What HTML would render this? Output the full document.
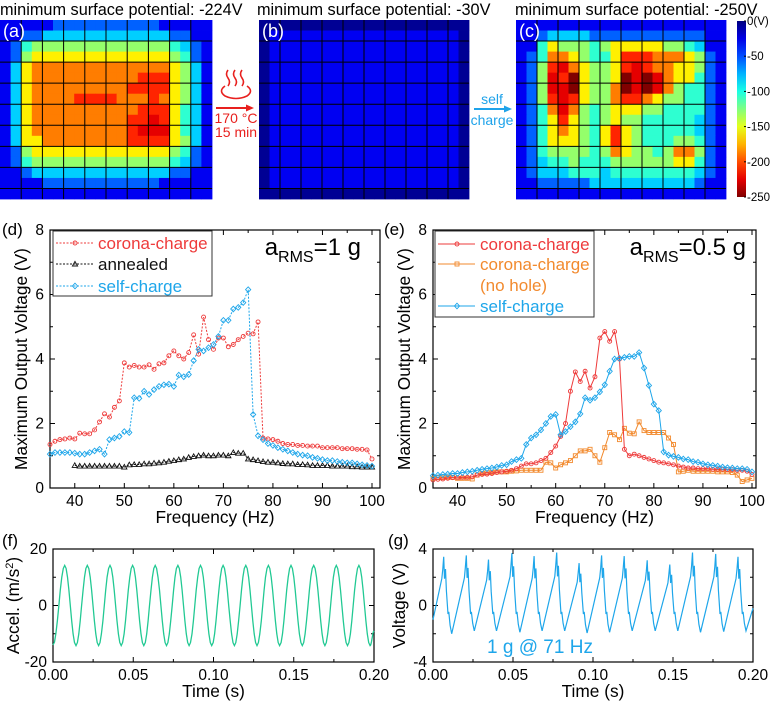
<!DOCTYPE html>
<html><head><meta charset="utf-8"><style>
html,body{margin:0;padding:0;background:#fff;}
svg{display:block;font-family:"Liberation Sans",Arial,sans-serif;}
</style></head><body>
<svg id="fig" width="770" height="708" viewBox="0 0 770 708" xmlns="http://www.w3.org/2000/svg">
<g id="maps"></g>
<g id="annot">
 <text x="0" y="15" font-size="16.3">minimum surface potential: -224V</text>
 <text x="257" y="15" font-size="16.3">minimum surface potential: -30V</text>
 <text x="515" y="15" font-size="16.3">minimum surface potential: -250V</text>
 <g fill="none" stroke="#e8201e" stroke-width="1.6">
  <path d="M228,70 q-3,4 0,8 q3,4 0,8 M235,70 q-3,4 0,8 q3,4 0,8 M242,70 q-3,4 0,8 q3,4 0,8"/>
  <path d="M225,86 q-7,5 0,10 q11,5 22,0 q7,-5 0,-10"/>
 </g>
 <g><line x1="216" y1="108" x2="248" y2="108" stroke="#e8201e" stroke-width="2"/><polygon points="254,108 246,104.5 246,111.5" fill="#e8201e"/></g>
 <text x="236" y="123" font-size="14" fill="#e8201e" text-anchor="middle">170 °C</text>
 <text x="236" y="137" font-size="14" fill="#e8201e" text-anchor="middle">15 min</text>
 <text x="492" y="104" font-size="14" fill="#1fa3ea" text-anchor="middle">self</text>
 <g><line x1="474" y1="109" x2="506" y2="109" stroke="#1fa3ea" stroke-width="2"/><polygon points="512,109 504,105.5 504,112.5" fill="#1fa3ea"/></g>
 <text x="492" y="125" font-size="14" fill="#1fa3ea" text-anchor="middle">charge</text>
</g>
<g id="charts"></g>
</svg>
<script>
// ---------- heatmap data (digit = potential level index into levelV)
const levelV=[-5,-28,-55,-82,-105,-130,-160,-188,-210,-225,-250];
const mapA=["11111222222222211111","11223333333333332211","12455555555555554321","12566666666666665421","13677777777777776531","13677777777778886531","13677777777788886531","13677778888777876531","13677777777778886431","13677777777788986431","13677777777789996431","13667777777788886531","12566666666666665421","12455555555555554321","11233333333333332211","11112222222222211111","11111111111111111111"];
const mapB=["00000000000000000000","01111111111111111110","01111111111111111110","01111111111111111110","01111111111111111110","01111111111111111110","01111111111111111110","01111111111111111110","01111111111111111110","01111111111111111110","01111111111111111110","01111111111111111110","01111111111111111110","01111111111111111110","01111111111111111110","01111111111111111110","00000000000000000000"];
const mapC=["11111111111111111111","11233332222222222211","11465554566666554311","12477654468887776521","12589765568987766521","12598a6556a9a9766421","12599a6557a9a9754421","12589865578876554421","12479754566655444421","12468654565544444321","12467654686544444321","12466654686544455421","12455554576554577521","12344544455555566421","12333444344444444321","11222223333333333211","11111111111111111111"];
const cbarLabels=["0(V)","-50","-100","-150","-200","-250"];

// ---------- (d) data, 1 g
const fD=[];for(let f=35;f<=100;f++)fD.push(f);
const fAnn=[];for(let f=40;f<=100;f++)fAnn.push(f);
const dCorona=[1.35,1.45,1.5,1.52,1.55,1.52,1.7,1.68,1.68,1.8,2.05,2.3,2.2,2.5,2.7,3.88,3.75,3.8,3.75,3.75,3.82,3.68,3.85,3.88,4.1,4.25,4.1,4.0,4.2,4.75,4.15,5.3,4.6,4.3,4.65,4.65,4.38,4.45,4.6,4.7,4.8,4.78,5.15,1.55,1.52,1.5,1.45,1.38,1.35,1.35,1.32,1.32,1.3,1.3,1.3,1.25,1.25,1.25,1.25,1.22,1.22,1.22,1.2,1.2,1.18,0.9];
const dSelf=[1.05,1.1,1.1,1.1,1.1,1.08,1.05,1.05,1.1,1.15,1.2,1.05,1.5,1.55,1.6,1.75,1.72,2.8,2.78,3.0,2.9,3.05,3.15,3.2,3.22,3.15,3.5,3.45,3.52,3.95,4.3,4.25,4.35,4.45,4.7,5.2,5.2,5.55,5.6,5.75,6.15,2.28,1.62,1.5,1.38,1.32,1.25,1.2,1.15,1.1,1.05,1.02,1.0,0.95,0.92,0.88,0.85,0.85,0.82,0.8,0.78,0.78,0.75,0.72,0.7,0.68];
const dAnnealed=[0.70,0.68,0.68,0.68,0.68,0.68,0.68,0.68,0.68,0.68,0.65,0.72,0.73,0.73,0.75,0.75,0.77,0.78,0.80,0.83,0.85,0.88,0.90,0.95,0.98,1.00,1.02,1.00,1.00,1.02,1.02,1.00,1.10,1.08,1.08,0.90,0.88,0.85,0.82,0.80,0.80,0.78,0.76,0.75,0.75,0.73,0.73,0.72,0.70,0.70,0.70,0.70,0.68,0.68,0.68,0.68,0.66,0.66,0.65,0.65,0.65];
// ---------- (e) data, 0.5 g
const eCorona=[0.25,0.27,0.28,0.3,0.32,0.32,0.33,0.33,0.35,0.4,0.42,0.43,0.45,0.48,0.5,0.52,0.55,0.6,0.68,0.75,0.75,0.78,0.85,0.92,1.1,1.3,1.6,2.0,3.0,3.6,3.3,3.62,3.1,3.45,4.65,4.85,4.55,4.85,4.0,1.2,1.0,1.05,1.0,0.95,0.9,0.85,0.8,0.78,0.75,0.72,0.68,0.65,0.62,0.62,0.6,0.6,0.6,0.58,0.58,0.58,0.57,0.57,0.55,0.55,0.52,0.42];
const eNoHole=[0.3,0.32,0.32,0.33,0.33,0.3,0.3,0.3,0.28,0.4,0.45,0.47,0.48,0.5,0.5,0.5,0.52,0.53,0.55,0.55,0.55,0.55,0.55,0.8,0.78,0.62,0.72,0.78,0.85,1.0,1.15,1.15,1.2,1.0,0.8,1.25,1.72,1.65,1.5,1.85,1.7,1.68,2.05,1.78,1.72,1.72,1.72,1.72,1.55,1.35,0.5,0.52,0.55,0.52,0.52,0.52,0.52,0.52,0.5,0.5,0.5,0.48,0.4,0.2,0.25,0.3];
const eSelf=[0.38,0.4,0.42,0.43,0.45,0.45,0.48,0.5,0.52,0.55,0.58,0.6,0.62,0.65,0.7,0.72,0.82,0.88,0.92,1.35,1.55,1.65,1.8,2.0,2.22,2.28,1.65,1.75,1.9,2.05,2.3,2.8,2.72,2.8,2.98,3.2,3.62,4.0,4.02,4.05,4.08,4.08,4.2,3.72,3.18,2.6,2.4,1.12,1.02,0.98,0.95,0.9,0.88,0.82,0.8,0.75,0.72,0.7,0.68,0.65,0.63,0.62,0.6,0.6,0.58,0.5];
const freqTicks=[40,50,60,70,80,90,100];
const voltTicks=[0,2,4,6,8];
// ---------- (f) acceleration extrema
const accT=[0,0.0073,0.0143,0.0214,0.0284,0.0355,0.0425,0.0496,0.0566,0.0637,0.0707,0.0778,0.0848,0.0919,0.0989,0.1060,0.1130,0.1201,0.1271,0.1342,0.1412,0.1483,0.1553,0.1624,0.1694,0.1765,0.1835,0.1906,0.1976,0.2];
const accV=[-14,14.2,-14.2,14.2,-14.2,14.2,-14.2,14.2,-14.2,14.2,-14.2,14.2,-14.2,14.2,-14.2,14.2,-14.2,14.2,-14.2,14.2,-14.2,14.2,-14.2,14.2,-14.2,14.2,-14.2,14.2,-14.2,-9];
const accTicks=[-20,0,20];
// ---------- (g) voltage peaks
const vPeakT=[0.0067,0.0208,0.0347,0.0493,0.0632,0.0773,0.0913,0.1054,0.1195,0.1339,0.1480,0.1622,0.1767,0.1906];
const vPeakV=[3.45,3.55,3.25,3.7,3.5,3.75,3.0,3.55,3.5,3.2,2.9,3.75,3.65,3.45];
const vTroughV=[-2.0,-1.8,-1.8,-1.9,-1.8,-1.8,-1.95,-1.9,-1.8,-1.8,-1.8,-1.9,-1.85,-1.8];
const vStart=-1.0, vEnd=-0.2;
const voltGTicks=[-4,0,4];
const timeTicks=["0.00","0.05","0.10","0.15","0.20"];

const NS="http://www.w3.org/2000/svg";
function mk(tag,attrs,parent){const e=document.createElementNS(NS,tag);for(const k in attrs)e.setAttribute(k,attrs[k]);parent.appendChild(e);return e;}
function jet(t){const c=v=>Math.round(255*Math.max(0,Math.min(1,v)));return `rgb(${c(1.5-Math.abs(4*t-3))},${c(1.5-Math.abs(4*t-2))},${c(1.5-Math.abs(4*t-1))})`;}
const maps=document.getElementById('maps');
function drawMap(rows,x0,x1,y0,y1,name,label){
  const g=mk('g',{},maps);
  
  
  const nr=rows.length,nc=rows[0].length,cw=(x1-x0)/nc,ch=(y1-y0)/nr;
  rows.forEach((r,i)=>{for(let j=0;j<nc;j++){const v=levelV[parseInt(r[j],16)];
    const rc=mk('rect',{x:(x0+j*cw).toFixed(2),y:(y0+i*ch).toFixed(2),width:(cw+0.4).toFixed(2),height:(ch+0.4).toFixed(2),fill:jet(-v/250)},g);
    
    }});
  for(let j=2;j<nc;j+=2)mk('line',{x1:x0+j*cw,x2:x0+j*cw,y1:y0,y2:y1,stroke:'#000','stroke-width':1},g);
  for(let i=2;i<nr;i+=2)mk('line',{x1:x0,x2:x1,y1:y0+i*ch,y2:y0+i*ch,stroke:'#000','stroke-width':1},g);
  const t=mk('text',{x:x0+3,y:y0+17,'font-size':18,fill:'#fff'},g);t.textContent=label;
  
  
}
drawMap(mapA,0,212,20,199,'map-a','(a)');
drawMap(mapB,259,469,20,199,'map-b','(b)');
drawMap(mapC,516,726,20,199,'map-c','(c)');
// colorbar
(function(){const g=mk('g',{},maps);
 
 
 const defs=mk('defs',{},g);const lg=mk('linearGradient',{id:'jetg',x1:0,y1:0,x2:0,y2:1},defs);
 for(let i=0;i<=10;i++)mk('stop',{offset:i/10,'stop-color':jet(i/10)},lg);
 mk('rect',{x:737,y:21,width:9,height:176,fill:'url(#jetg)'},g);
 cbarLabels.forEach((l,i)=>{const y=21+i*176/5;mk('line',{x1:744,x2:746,y1:y,y2:y,stroke:'#000'},g);
  const t=mk('text',{x:747,y:y+4,'font-size':11.5},g);t.textContent=l;
  
  });
})();

const charts=document.getElementById('charts');
function axes(o){
  const g=mk('g',{},charts);
  
  
  const sx=v=>o.x0+(v-o.xa)/(o.xb-o.xa)*(o.x1-o.x0);
  const sy=v=>o.y1-(v-o.ya)/(o.yb-o.ya)*(o.y1-o.y0);
  o.xmaj.forEach((v,i)=>{const x=sx(+v);
    [[o.y1,-5],[o.py0,5]].forEach(([y,d])=>mk('line',{x1:x,x2:x,y1:y,y2:y+d,stroke:'#000'},g));
    const t=mk('text',{x:x,y:o.y1+18,'font-size':15.5,'text-anchor':'middle'},g);t.textContent=o.xlab?o.xlab[i]:v;
    
    });
  o.xmin.forEach(v=>{const x=sx(v);mk('line',{x1:x,x2:x,y1:o.y1,y2:o.y1-3,stroke:'#000'},g);mk('line',{x1:x,x2:x,y1:o.py0,y2:o.py0+3,stroke:'#000'},g);});
  o.ymaj.forEach(v=>{const y=sy(v);mk('line',{x1:o.x0,x2:o.x0+5,y1:y,y2:y,stroke:'#000'},g);mk('line',{x1:o.px1,x2:o.px1-5,y1:y,y2:y,stroke:'#000'},g);
    const t=mk('text',{x:o.x0-6,y:y+5,'font-size':15.5,'text-anchor':'end'},g);t.textContent=v;
    
    });
  o.ymin.forEach(v=>{const y=sy(v);mk('line',{x1:o.x0,x2:o.x0+3,y1:y,y2:y,stroke:'#000'},g);mk('line',{x1:o.px1,x2:o.px1-3,y1:y,y2:y,stroke:'#000'},g);});
  mk('rect',{x:o.x0,y:o.py0,width:o.px1-o.x0,height:o.y1-o.py0,fill:'none',stroke:'#000','stroke-width':1.2},g);
  const xt=mk('text',{x:(o.x0+o.px1)/2,y:o.y1+35,'font-size':17.3,'text-anchor':'middle'},g);xt.textContent=o.xtitle;
  
  
  const cy=(o.py0+o.y1)/2;
  const yt=mk('text',{x:o.ytx,y:cy,'font-size':17.3,'text-anchor':'middle',transform:`rotate(-90 ${o.ytx} ${cy})`},g);yt.innerHTML=o.ytitle;
  
  
  const pl=mk('text',{x:o.plx,y:o.ply,'font-size':17},g);pl.textContent=o.panel;
  
  
  return {g,sx,sy};
}
function marker(g,type,x,y,col){
  let m;
  if(type==='c')m=mk('circle',{cx:x,cy:y,r:2,fill:'none',stroke:col,'stroke-width':0.9},g);
  else if(type==='t')m=mk('polygon',{points:`${x},${y-2.6} ${x-2.6},${y+2} ${x+2.6},${y+2}`,fill:'none',stroke:col,'stroke-width':0.9},g);
  else if(type==='d')m=mk('polygon',{points:`${x},${y-2.8} ${x+2.6},${y} ${x},${y+2.8} ${x-2.6},${y}`,fill:'none',stroke:col,'stroke-width':0.9},g);
  else m=mk('rect',{x:x-2,y:y-2,width:4,height:4,fill:'none',stroke:col,'stroke-width':0.9},g);
  
  
}
function series(ax,xs,ys,col,type,dash,name){
  const g=mk('g',{},ax.g);
  
  
  const pts=xs.map((x,i)=>`${ax.sx(x).toFixed(1)},${ax.sy(ys[i]).toFixed(1)}`).join(' ');
  const a={points:pts,fill:'none',stroke:col,'stroke-width':1};if(dash)a['stroke-dasharray']=dash;
  mk('polyline',a,g);
  xs.forEach((x,i)=>marker(g,type,ax.sx(x),ax.sy(ys[i]),col));
}
function legend(g,x,y,w,h,items,title,tx,ty){
  const lg=mk('g',{},g);
  
  
  mk('rect',{x,y,width:w,height:h,fill:'#fff',stroke:'#333','stroke-width':1},lg);
  items.forEach(it=>{
    const e=mk('g',{},lg);
    
    
    if(it.type){const a={x1:x+3,x2:x+40,y1:it.y,y2:it.y,stroke:it.col,'stroke-width':1};if(it.dash)a['stroke-dasharray']=it.dash;mk('line',a,e);marker(e,it.type,x+22,it.y,it.col);}
    const t=mk('text',{x:x+45,y:it.y+6,'font-size':17,fill:it.col},e);t.textContent=it.label;});
  const at=mk('text',{x:tx,y:ty,'font-size':24,'text-anchor':'end'},g);
  at.innerHTML='a<tspan font-size="16" dy="7">RMS</tspan><tspan dy="-7">'+title+'</tspan>';
  
  
}
const RED='#ee3b3b',BLUE='#1ea6ea',ORANGE='#f28a2e';
// (d)
const axD=axes({name:'chart-d',x0:50,x1:372,px1:380,xa:35,xb:100,y0:230,py0:230,y1:488,ya:0,yb:8,xmaj:freqTicks,xmin:[35,45,55,65,75,85,95],ymaj:voltTicks,ymin:[1,3,5,7],xtitle:'Frequency (Hz)',ytitle:'Maximum Output Voltage (V)',ytx:27,plx:2,ply:235,panel:'(d)'});
series(axD,fAnn,dAnnealed,'#111','t','2 1.5','series-annealed');
series(axD,fD,dCorona,RED,'c','2 1.5','series-corona-charge');
series(axD,fD,dSelf,BLUE,'d','2 1.5','series-self-charge');
legend(axD.g,53,231,159,65,[{y:243,col:RED,type:'c',dash:'2 1.5',label:'corona-charge'},{y:264,col:'#111',type:'t',dash:'2 1.5',label:'annealed'},{y:286,col:BLUE,type:'d',dash:'2 1.5',label:'self-charge'}],'=1 g',361,255);
// (e)
const axE=axes({name:'chart-e',x0:433,x1:752,px1:756,xa:35,xb:100,y0:230,py0:230,y1:488,ya:0,yb:8,xmaj:freqTicks,xmin:[35,45,55,65,75,85,95],ymaj:voltTicks,ymin:[1,3,5,7],xtitle:'Frequency (Hz)',ytitle:'Maximum Output Voltage (V)',ytx:410,plx:384,ply:235,panel:'(e)'});
series(axE,fD,eNoHole,ORANGE,'s',null,'series-no-hole');
series(axE,fD,eCorona,RED,'c',null,'series-corona-charge');
series(axE,fD,eSelf,BLUE,'d',null,'series-self-charge');
legend(axE.g,435,231,159,86,[{y:244,col:RED,type:'c',label:'corona-charge'},{y:264,col:ORANGE,type:'s',label:'corona-charge'},{y:285,col:ORANGE,label:'(no hole)'},{y:306,col:BLUE,type:'d',label:'self-charge'}],'=0.5 g',746,255);
// (f)
const axF=axes({name:'chart-f',x0:53,x1:374,px1:374,xa:0,xb:0.2,y0:549,py0:549,y1:662,ya:-20,yb:20,xmaj:[0,0.05,0.1,0.15,0.2],xlab:timeTicks,xmin:[0.025,0.075,0.125,0.175],ymaj:accTicks,ymin:[-10,10],xtitle:'Time (s)',ytitle:'Accel. (m/s<tspan font-size="11" dy="-6">2</tspan><tspan dy="6">)</tspan>',ytx:19,plx:2,ply:546,panel:'(f)'});
(function(){let d='';for(let i=0;i<accT.length-1;i++){const t0=accT[i],t1=accT[i+1],v0=accV[i],v1=accV[i+1];
  for(let k=0;k<=8;k++){const u=k/8,t=t0+(t1-t0)*u,v=v0+(v1-v0)*(1-Math.cos(Math.PI*u))/2;d+=(d?'L':'M')+axF.sx(t).toFixed(1)+','+axF.sy(v).toFixed(1);}}
  const p=mk('path',{d,fill:'none',stroke:'#22c993','stroke-width':1.3},axF.g);
  
  })();
// (g)
const axG=axes({name:'chart-g',x0:433,x1:753,px1:753,xa:0,xb:0.2,y0:549,py0:549,y1:662,ya:-4,yb:4,xmaj:[0,0.05,0.1,0.15,0.2],xlab:timeTicks,xmin:[0.025,0.075,0.125,0.175],ymaj:voltGTicks,ymin:[-2,2],xtitle:'Time (s)',ytitle:'Voltage (V)',ytx:405,plx:388,ply:546,panel:'(g)'});
(function(){const pts=[[0,vStart]];
  vPeakT.forEach((tp,i)=>{const P=vPeakV[i],T=vTroughV[i];
    pts.push([tp-0.0012,P*0.55],[tp-0.0006,P*0.75],[tp,P],[tp+0.0005,P*0.55],[tp+0.0011,P*0.75],[tp+0.0017,P*0.3],[tp+0.0027,-0.6],[tp+0.0032,-0.45],[tp+0.0040,T*0.7],[tp+0.0050,T]);});
  pts.push([0.2,vEnd]);
  const d=pts.filter(p=>p[0]<=0.2).map((p,i)=>(i?'L':'M')+axG.sx(p[0]).toFixed(1)+','+axG.sy(p[1]).toFixed(1)).join('');
  const p=mk('path',{d,fill:'none',stroke:BLUE,'stroke-width':1.2},axG.g);
  
  
  const t=mk('text',{x:540,y:653,'font-size':19,fill:BLUE,'text-anchor':'middle'},axG.g);t.textContent='1 g @ 71 Hz';
  
  })();
</script>
</body></html>
